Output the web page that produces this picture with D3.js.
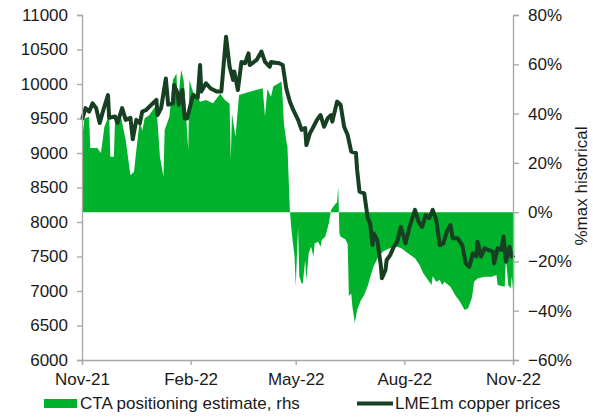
<!DOCTYPE html>
<html><head><meta charset="utf-8">
<script src="https://cdn.jsdelivr.net/npm/d3@7"></script>
<style>body{margin:0;background:#fff}svg{display:block}text{font-family:Arial,"Liberation Sans",sans-serif;fill:#1a1a1a}</style>
</head><body><svg id="c" width="593" height="417"></svg>
<script>
const priceTicks = [6000,6500,7000,7500,8000,8500,9000,9500,10000,10500,11000];
const pctTicks = [-0.6,-0.4,-0.2,0,0.2,0.4,0.6,0.8];
const monthTicks = ["2021-11-01","2022-02-01","2022-05-01","2022-08-01","2022-11-01"];
const seriesNames = ["CTA positioning estimate, rhs","LME1m copper prices"];

const priceData = [
["2021-11-01",9480],["2021-11-04",9650],["2021-11-07",9600],["2021-11-10",9720],["2021-11-13",9650],
["2021-11-16",9435],["2021-11-19",9620],["2021-11-23",9840],["2021-11-24",9510],["2021-11-29",9530],
["2021-12-01",9435],["2021-12-05",9650],["2021-12-08",9480],["2021-12-12",9510],["2021-12-14",9200],
["2021-12-17",9480],["2021-12-20",9430],["2021-12-22",9600],["2021-12-25",9620],["2022-01-03",9770],
["2022-01-04",9550],["2022-01-07",9650],["2022-01-11",10080],["2022-01-13",9700],["2022-01-17",9720],
["2022-01-18",9985],["2022-01-21",9865],["2022-01-22",9700],["2022-01-25",9913],["2022-01-27",9500],
["2022-01-29",9500],["2022-02-03",9840],["2022-02-07",9800],["2022-02-09",10275],["2022-02-10",9890],
["2022-02-14",10010],["2022-02-18",9935],["2022-02-23",9890],["2022-02-27",9890],["2022-03-03",10686],
["2022-03-06",10250],["2022-03-09",10060],["2022-03-10",10180],["2022-03-13",9913],["2022-03-16",10320],
["2022-03-19",10300],["2022-03-22",10445],["2022-03-23",10275],["2022-03-29",10350],["2022-04-02",10470],
["2022-04-05",10320],["2022-04-09",10250],["2022-04-10",10320],["2022-04-17",10300],["2022-04-20",10275],
["2022-04-23",9935],["2022-04-26",9745],["2022-04-29",9620],["2022-05-03",9480],["2022-05-06",9335],
["2022-05-09",9360],["2022-05-10",9115],["2022-05-13",9285],["2022-05-16",9380],["2022-05-19",9480],
["2022-05-22",9550],["2022-05-25",9380],["2022-05-28",9500],["2022-05-31",9550],["2022-06-01",9455],
["2022-06-05",9745],["2022-06-08",9700],["2022-06-11",9380],["2022-06-14",9260],["2022-06-17",9020],
["2022-06-21",9000],["2022-06-22",8755],["2022-06-24",8440],["2022-06-28",8415],["2022-07-01",8055],
["2022-07-03",7980],["2022-07-05",7665],["2022-07-06",7835],["2022-07-09",7740],["2022-07-12",7380],
["2022-07-13",7185],["2022-07-16",7305],["2022-07-17",7450],["2022-07-20",7520],["2022-07-23",7640],
["2022-07-26",7715],["2022-07-29",7930],["2022-08-02",7690],["2022-08-05",7910],["2022-08-10",8175],
["2022-08-13",8005],["2022-08-16",7930],["2022-08-19",8100],["2022-08-22",8055],["2022-08-25",8175],
["2022-08-28",8030],["2022-08-31",7665],["2022-09-03",7690],["2022-09-06",7860],["2022-09-09",7957],
["2022-09-11",7765],["2022-09-15",7765],["2022-09-19",7665],["2022-09-22",7400],["2022-09-25",7350],
["2022-09-28",7545],["2022-10-01",7500],["2022-10-02",7715],["2022-10-05",7500],["2022-10-08",7620],
["2022-10-11",7595],["2022-10-15",7570],["2022-10-16",7400],["2022-10-19",7620],["2022-10-22",7595],
["2022-10-24",7790],["2022-10-26",7425],["2022-10-28",7545],["2022-10-29",7640],["2022-10-31",7500],
["2022-11-02",7520]
];

const ctaData = [
["2021-11-01",0.29],["2021-11-03",0.38],["2021-11-07",0.387],["2021-11-08",0.26],["2021-11-14",0.26],
["2021-11-17",0.24],["2021-11-20",0.347],["2021-11-24",0.394],["2021-11-25",0.225],["2021-11-28",0.225],
["2021-11-29",0.374],["2021-12-04",0.387],["2021-12-08",0.293],["2021-12-12",0.15],["2021-12-15",0.164],
["2021-12-18",0.293],["2021-12-20",0.374],["2021-12-22",0.33],["2021-12-24",0.38],["2021-12-28",0.394],
["2022-01-03",0.435],["2022-01-06",0.225],["2022-01-09",0.144],["2022-01-10",0.333],["2022-01-14",0.387],
["2022-01-17",0.536],["2022-01-20",0.563],["2022-01-21",0.435],["2022-01-24",0.577],["2022-01-26",0.536],
["2022-01-27",0.48],["2022-01-30",0.252],["2022-01-31",0.536],["2022-02-03",0.489],["2022-02-07",0.468],
["2022-02-09",0.448],["2022-02-14",0.455],["2022-02-20",0.442],["2022-02-26",0.48],["2022-03-02",0.455],
["2022-03-06",0.44],["2022-03-07",0.21],["2022-03-08",0.40],["2022-03-11",0.306],["2022-03-14",0.475],
["2022-03-23",0.489],["2022-04-03",0.503],["2022-04-05",0.387],["2022-04-07",0.50],["2022-04-10",0.468],
["2022-04-12",0.51],["2022-04-19",0.53],["2022-04-20",0.455],["2022-04-21",0.36],["2022-04-23",0.29],
["2022-04-24",0.265],["2022-04-26",0.01],["2022-04-27",-0.05],["2022-04-28",-0.10],["2022-04-30",-0.18],
["2022-05-01",-0.30],["2022-05-03",-0.06],["2022-05-04",-0.26],["2022-05-06",-0.29],["2022-05-07",-0.29],
["2022-05-09",-0.194],["2022-05-10",-0.275],["2022-05-12",-0.167],["2022-05-14",-0.14],["2022-05-16",-0.18],
["2022-05-17",-0.127],["2022-05-20",-0.12],["2022-05-22",-0.14],["2022-05-23",-0.113],["2022-05-26",-0.10],
["2022-05-29",-0.046],["2022-05-31",0.01],["2022-06-03",0.03],["2022-06-05",0.04],["2022-06-06",0.104],
["2022-06-07",-0.086],["2022-06-08",-0.10],["2022-06-12",-0.11],["2022-06-14",-0.13],["2022-06-15",-0.34],
["2022-06-17",-0.33],["2022-06-18",-0.384],["2022-06-20",-0.45],["2022-06-22",-0.397],["2022-06-25",-0.36],
["2022-06-28",-0.336],["2022-07-01",-0.30],["2022-07-03",-0.265],["2022-07-06",-0.22],["2022-07-10",-0.18],
["2022-07-14",-0.16],["2022-07-20",-0.145],["2022-07-26",-0.14],["2022-07-29",-0.146],["2022-08-04",-0.167],
["2022-08-10",-0.187],["2022-08-14",-0.215],["2022-08-17",-0.248],["2022-08-21",-0.275],["2022-08-24",-0.296],
["2022-08-25",-0.26],["2022-08-28",-0.282],["2022-08-31",-0.275],["2022-09-02",-0.296],["2022-09-04",-0.282],
["2022-09-09",-0.303],["2022-09-13",-0.336],["2022-09-17",-0.363],["2022-09-21",-0.397],["2022-09-24",-0.39],
["2022-09-27",-0.35],["2022-09-28",-0.323],["2022-09-29",-0.282],["2022-10-02",-0.269],["2022-10-08",-0.262],
["2022-10-14",-0.262],["2022-10-18",-0.255],["2022-10-19",-0.296],["2022-10-25",-0.303],["2022-10-26",-0.187],
["2022-10-28",-0.296],["2022-10-30",-0.31],["2022-10-31",-0.26],["2022-11-01",-0.316],["2022-11-02",-0.30]
];

const parse = d3.timeParse("%Y-%m-%d");
const svg = d3.select("#c");
const L = 82, R = 513, T = 15, B = 360;
const areaColor = "#00b22b", lineColor = "#173f22", axisColor = "#a6a6a6";
const FS = 17;

const x = d3.scaleTime().domain([parse("2021-11-01"), parse("2022-11-01")]).range([L, R]);
const yL = d3.scaleLinear().domain([6000, 11000]).range([B, T]);
const yR = d3.scaleLinear().domain([-0.6, 0.8]).range([B, T]);

const cta = ctaData.map(d => ({date: parse(d[0]), v: d[1]}));
const price = priceData.map(d => ({date: parse(d[0]), v: d[1]}));

svg.append("path").datum(cta)
  .attr("fill", areaColor)
  .attr("d", d3.area().x(d => x(d.date)).y0(yR(0)).y1(d => yR(d.v)));

svg.append("path").datum(price)
  .attr("fill", "none").attr("stroke", lineColor).attr("stroke-width", 4)
  .attr("stroke-linejoin", "round")
  .attr("d", d3.line().x(d => x(d.date)).y(d => yL(d.v)));

function styleAxis(g){
  g.selectAll("path.domain").attr("stroke", axisColor).attr("stroke-width", 1.3);
  g.selectAll(".tick line").attr("stroke", axisColor).attr("stroke-width", 1.3);
  g.selectAll(".tick text").attr("font-size", FS).attr("fill", "#1a1a1a")
    .attr("font-family", "Arial, 'Liberation Sans', sans-serif");
}

const gL = svg.append("g").attr("transform", `translate(${L},0)`)
  .call(d3.axisLeft(yL).tickValues(priceTicks).tickFormat(d3.format("d")).tickSizeOuter(0).tickSize(5).tickPadding(9));
styleAxis(gL);

const gR = svg.append("g").attr("transform", `translate(${R},0)`)
  .call(d3.axisRight(yR).tickValues(pctTicks).tickFormat(d3.format(".0%")).tickSizeOuter(0).tickSize(6).tickPadding(9));
styleAxis(gR);

const gB = svg.append("g").attr("transform", `translate(0,${B})`)
  .call(d3.axisBottom(x).tickValues(monthTicks.map(parse)).tickFormat(d3.timeFormat("%b-%y")).tickSizeOuter(0).tickSize(5).tickPadding(8));
styleAxis(gB);

svg.append("text")
  .attr("transform", `translate(587,186) rotate(-90)`)
  .attr("text-anchor", "middle").attr("font-size", FS)
  .text("%max historical");

// legend
const lg = svg.append("g");
lg.append("rect").attr("x", 44).attr("y", 399).attr("width", 33).attr("height", 9).attr("fill", areaColor);
lg.append("text").attr("x", 80).attr("y", 409).attr("font-size", FS).text(seriesNames[0]);
lg.append("line").attr("x1", 357).attr("x2", 393).attr("y1", 403.5).attr("y2", 403.5)
  .attr("stroke", lineColor).attr("stroke-width", 4);
lg.append("text").attr("x", 395).attr("y", 409).attr("font-size", FS).text(seriesNames[1]);
</script></body></html>
